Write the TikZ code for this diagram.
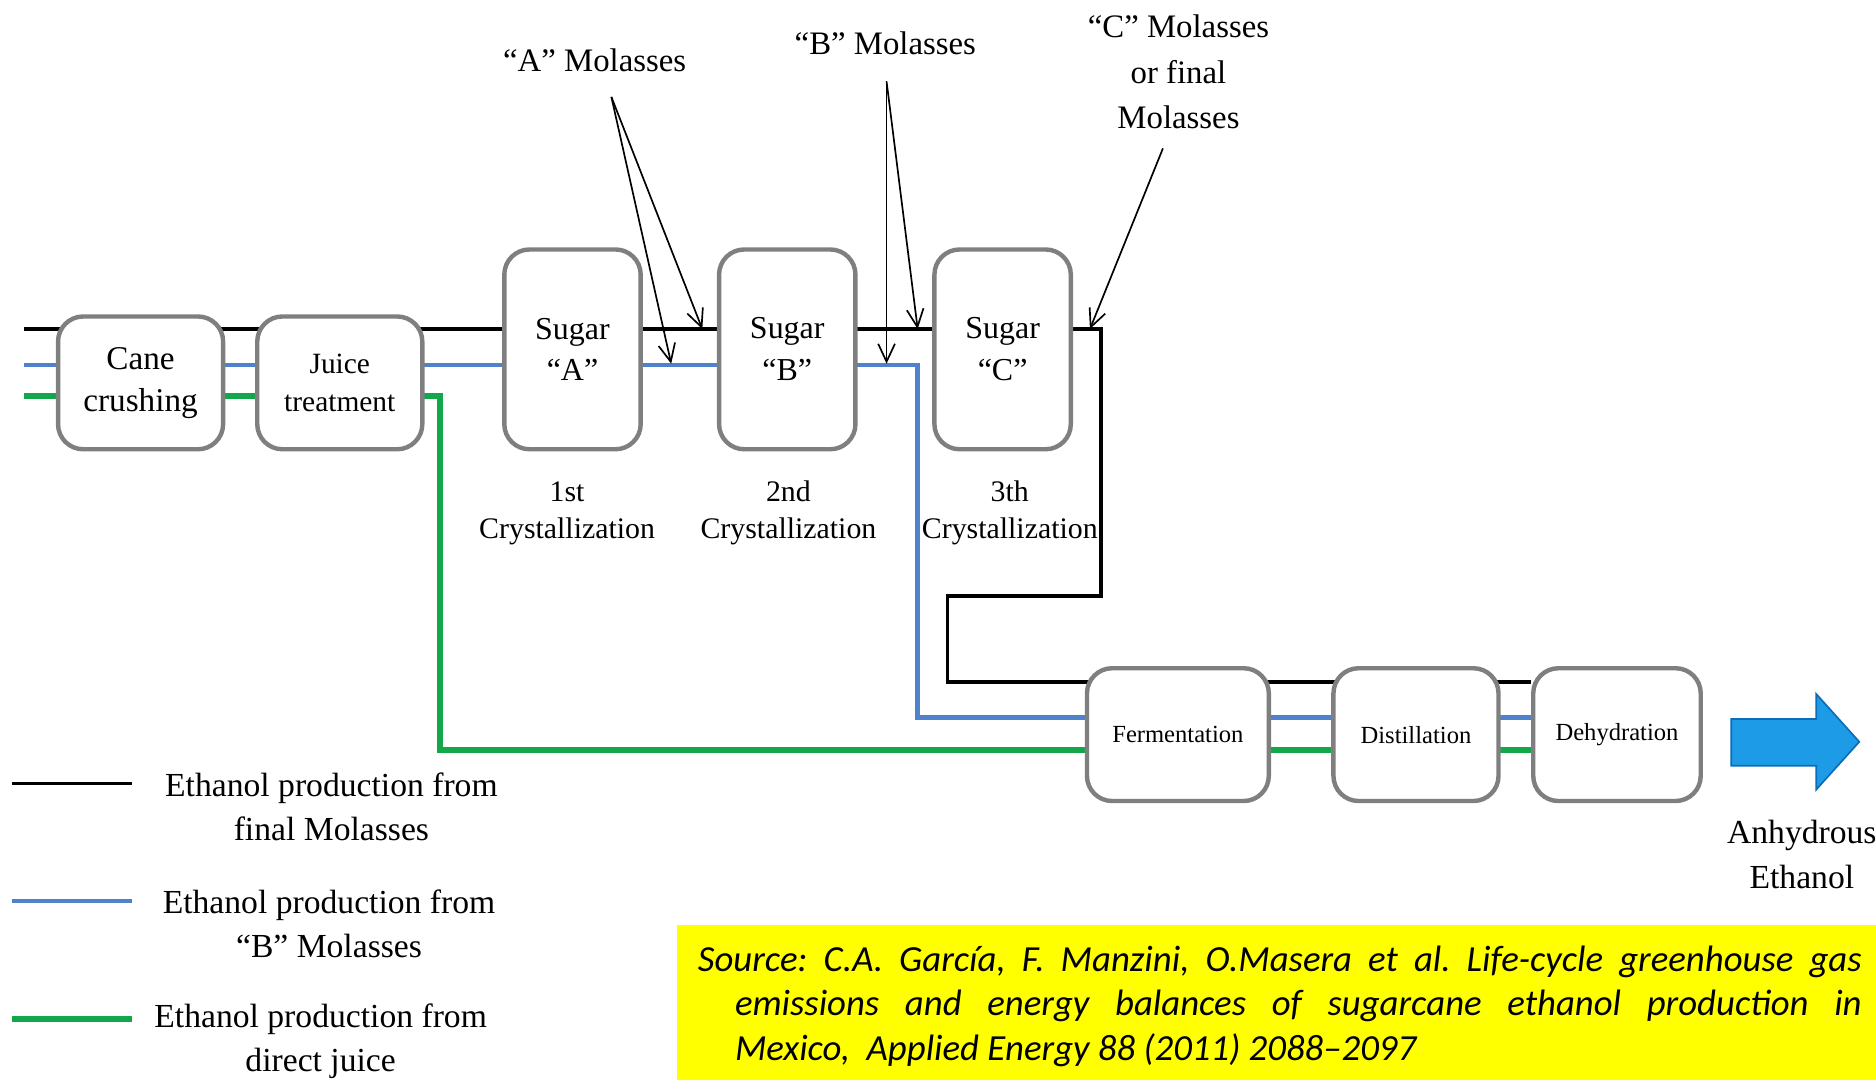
\documentclass[tikz,border=0pt]{standalone}
\usepackage{fontspec}
\setmainfont{Liberation Serif}
\newfontfamily\srcfont{Carlito}
\usepackage{xcolor}
\usetikzlibrary{arrows.meta, backgrounds}

\definecolor{boxgray}{HTML}{7F7F7F}
\definecolor{flowblue}{HTML}{4F81CC}
\definecolor{flowgreen}{HTML}{12A84A}
\definecolor{arrowblue}{HTML}{1E9BE6}
\definecolor{arrowedge}{HTML}{0B6DB8}
\definecolor{srcyellow}{HTML}{FFFF00}

\begin{document}
\begin{tikzpicture}[x=0.02cm, y=-0.02cm,
        procbox/.style={draw=boxgray, line width=2.1pt, fill=white, rounded corners=0.42cm, align=center, inner sep=1pt},
        widebox/.style={procbox, minimum width=2.76cm, minimum height=2.22cm},
        tallbox/.style={procbox, minimum width=2.28cm, minimum height=3.34cm, font=\fontsize{15.2}{19.9}\selectfont},
        lowbox/.style={procbox, minimum height=2.22cm, font=\fontsize{11.7}{14}\selectfont},
        blackflow/.style={line width=1.7pt, black},
        blueflow/.style={line width=2.3pt, flowblue},
        greenflow/.style={line width=2.8pt, flowgreen},
        annot/.style={line width=0.8pt, -{Straight Barb[length=3mm, width=2.8mm]}},
        lbl/.style={align=center, font=\fontsize{15.6}{21.6}\selectfont},
        cryst/.style={align=center, font=\fontsize{14.2}{17.6}\selectfont},
        legtxt/.style={align=center, font=\fontsize{16}{21}\selectfont}]
        \useasboundingbox (0,0) rectangle (1568,903);

        % --- Sugar mill ---
        \node[widebox, font=\fontsize{15.8}{19.9}\selectfont] (cane) at (117.5,320) {Cane\\crushing};
        \node[widebox, font=\fontsize{14}{18.2}\selectfont] (juice) at (284,320) {Juice\\treatment};
        \node[tallbox] (sugA) at (478.5,292) {Sugar\\“A”};
        \node[tallbox] (sugB) at (658,292) {Sugar\\“B”};
        \node[tallbox] (sugC) at (838,292) {Sugar\\“C”};
        \node[cryst] (crA) at (474,429) {1st\\Crystallization};
        \node[cryst] (crB) at (659,429) {2nd\\Crystallization};
        \node[cryst] (crC) at (844,429) {3th\\Crystallization};

        % --- Distillery ---
        \node[lowbox, minimum width=3.04cm] (ferm) at (984.5,614) {Fermentation};
        \node[lowbox, minimum width=2.76cm] (dist) at (1183.5,614) {Distillation};
        \node[lowbox, minimum width=2.80cm] (dehy) at (1351.5,614) {Dehydration};

        % --- Product ---
        \fill[arrowblue, draw=arrowedge, line width=0.8pt] (1447,601) -- (1518,601) -- (1518,580) -- (1554,620) -- (1518,660) -- (1518,640) -- (1447,640) -- cycle;
        \node[lbl, font=\fontsize{16}{21.6}\selectfont] (prod) at (1506,714) {Anhydrous\\Ethanol};

        % --- Flow lines (behind the boxes) ---
        \coordinate (blk_in) at (20,275);
        \coordinate (blk_turn) at (920,498);
        \coordinate (blk_back) at (792,570);
        \coordinate (blu_in) at (20,305);
        \coordinate (blu_turn) at (767,600);
        \coordinate (grn_in) at (20,331);
        \coordinate (grn_turn) at (368,627);
        \begin{scope}[on background layer]
            \draw[blackflow] (blk_in) -| (blk_turn) -| (blk_back) -- (dehy.west |- blk_back);
            \draw[blueflow] (blu_in) -| (blu_turn) -- (dehy.west |- blu_turn);
            \draw[greenflow] (grn_in) -| (grn_turn) -- (dehy.west |- grn_turn);
        \end{scope}

        % --- Molasses labels ---
        \node[lbl] (molA) at (497,50) {“A” Molasses};
        \node[lbl] (molB) at (740,36) {“B” Molasses};
        \node[lbl] (molC) at (985,60) {“C” Molasses\\or final\\Molasses};
        \coordinate (molA_src) at (511,81);
        \coordinate (molA_t1) at (561,304);
        \coordinate (molA_t2) at (587,275);
        \coordinate (molB_src) at (741,68);
        \coordinate (molB_t1) at (741,304);
        \coordinate (molB_t2) at (767,275);
        \coordinate (molC_src) at (972,124);
        \coordinate (molC_t) at (911,275);
        \draw[annot] (molA_src) -- (molA_t1);
        \draw[annot] (molA_src) -- (molA_t2);
        \draw[annot] (molB_src) -- (molB_t1);
        \draw[annot] (molB_src) -- (molB_t2);
        \draw[annot] (molC_src) -- (molC_t);

        % --- Legend ---
        \coordinate (leg1a) at (10,655); \coordinate (leg1b) at (110,655);
        \coordinate (leg2a) at (10,753); \coordinate (leg2b) at (110,753);
        \coordinate (leg3a) at (10,852); \coordinate (leg3b) at (110,852);
        \draw[blackflow] (leg1a) -- (leg1b);
        \draw[blueflow] (leg2a) -- (leg2b);
        \draw[greenflow] (leg3a) -- (leg3b);
        \node[legtxt] (leg1) at (277,674) {Ethanol production from\\final Molasses};
        \node[legtxt] (leg2) at (275,772) {Ethanol production from\\“B” Molasses};
        \node[legtxt] (leg3) at (268,870) {Ethanol production from\\direct juice};

        % --- Source ---
        \fill[srcyellow] (566,773) rectangle (1568,903);
        \node[anchor=north west, inner sep=0pt, text width=19.46cm, align=justify,
              font=\srcfont\itshape\fontsize{17.5}{21.3}\selectfont] (src) at (583,790)
              {\frenchspacing Source: C.A. García, F. Manzini, O.Masera et al. Life-cycle greenhouse gas\linebreak
               \hspace*{0.62cm}emissions and energy balances of sugarcane ethanol production in\linebreak
               \hspace*{0.62cm}Mexico,\ \ Applied Energy 88 (2011) 2088–2097};
    \end{tikzpicture}
\end{document}
